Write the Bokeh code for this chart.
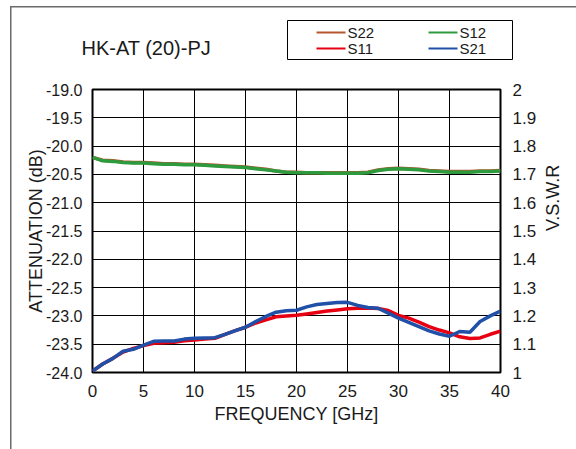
import math
from bokeh.plotting import figure
from bokeh.models import Range1d, LinearAxis, FixedTicker
from bokeh.layouts import column
from bokeh.core.properties import value
from bokeh.embed import file_html
from bokeh.resources import INLINE

# ---------------- data ----------------
freq = [0, 1, 2, 3, 4, 5, 6, 7, 8, 9, 10, 11, 12, 13, 14, 15, 16, 17, 18, 19, 20,
        21, 22, 23, 24, 25, 26, 27, 28, 29, 30, 31, 32, 33, 34, 35, 36, 37, 38, 39, 40]

s12 = [-20.20, -20.26, -20.27, -20.29, -20.30, -20.30, -20.31, -20.32, -20.32, -20.33,
       -20.33, -20.34, -20.35, -20.36, -20.37, -20.38, -20.40, -20.42, -20.44, -20.46,
       -20.47, -20.47, -20.47, -20.48, -20.48, -20.48, -20.48, -20.47, -20.43, -20.41,
       -20.40, -20.41, -20.42, -20.44, -20.45, -20.46, -20.46, -20.46, -20.45, -20.45,
       -20.44]

s22 = [-20.20, -20.25, -20.26, -20.28, -20.29, -20.29, -20.30, -20.31, -20.31, -20.32,
       -20.32, -20.33, -20.34, -20.35, -20.36, -20.37, -20.39, -20.41, -20.44, -20.46,
       -20.46, -20.47, -20.47, -20.47, -20.47, -20.47, -20.47, -20.46, -20.42, -20.40,
       -20.39, -20.40, -20.41, -20.43, -20.44, -20.45, -20.45, -20.45, -20.44, -20.44,
       -20.43]

s11 = [1.005, 1.030, 1.050, 1.072, 1.085, 1.095, 1.103, 1.105, 1.107, 1.112,
       1.115, 1.118, 1.121, 1.135, 1.148, 1.160, 1.175, 1.186, 1.197, 1.200,
       1.202, 1.207, 1.212, 1.217, 1.221, 1.225, 1.227, 1.228, 1.226, 1.219,
       1.202, 1.192, 1.178, 1.162, 1.150, 1.140, 1.126, 1.120, 1.122, 1.135,
       1.146]

s21 = [1.005, 1.030, 1.050, 1.075, 1.082, 1.097, 1.110, 1.111, 1.111, 1.118,
       1.121, 1.122, 1.123, 1.135, 1.148, 1.160, 1.180, 1.198, 1.213, 1.218,
       1.220, 1.232, 1.240, 1.244, 1.247, 1.248, 1.237, 1.230, 1.227, 1.210,
       1.192, 1.177, 1.162, 1.147, 1.136, 1.128, 1.145, 1.142, 1.180, 1.200,
       1.217]

freq_ticks = [0, 5, 10, 15, 20, 25, 30, 35, 40]
att_ticks = [-19.0, -19.5, -20.0, -20.5, -21.0, -21.5, -22.0, -22.5, -23.0, -23.5, -24.0]
att_labels = ["-19.0", "-19.5", "-20.0", "-20.5", "-21.0", "-21.5", "-22.0", "-22.5",
              "-23.0", "-23.5", "-24.0"]
vswr_ticks = [1.0, 1.1, 1.2, 1.3, 1.4, 1.5, 1.6, 1.7, 1.8, 1.9, 2.0]
vswr_labels = ["1", "1.1", "1.2", "1.3", "1.4", "1.5", "1.6", "1.7", "1.8", "1.9", "2"]

series_names = ["S22", "S12", "S11", "S21"]
series_colors = ["#b5562e", "#2e9a3e", "#e60012", "#2150a8"]

title_text = "HK-AT (20)-PJ"
x_title = "FREQUENCY [GHz]"
y_title = "ATTENUATION (dB)"
y2_title = "V.S.W.R"

FONT = "Liberation Sans"
TXT = "#1a1a1a"
HEAD_H = 70

# ---------------- header (title + legend) ----------------
head = figure(width=576, height=HEAD_H, output_backend="svg", toolbar_location=None,
              x_range=Range1d(0, 576), y_range=Range1d(HEAD_H, 0),
              min_border=0, min_border_left=0, min_border_right=0,
              min_border_top=0, min_border_bottom=0)
head.axis.visible = False
head.grid.visible = False
head.outline_line_color = None
head.background_fill_alpha = 0
head.border_fill_alpha = 0
try:
    head.frame_align = False
except Exception:
    pass

head.text(x=[81], y=[47], text=[title_text], text_font=value(FONT),
          text_font_size="20px", text_color=TXT, text_baseline="middle",
          text_align="left")

head.quad(left=[287], right=[512], top=[20], bottom=[59], fill_alpha=0,
          line_color="black", line_width=1)
leg_x0 = [316, 428, 316, 428]
leg_y = [32, 32, 48, 48]
head.segment(x0=leg_x0, y0=leg_y, x1=[x + 29 for x in leg_x0], y1=leg_y,
             line_color=series_colors, line_width=2)
head.text(x=[x + 31 for x in leg_x0], y=leg_y, text=series_names,
          text_font=value(FONT), text_font_size="15px", text_color=TXT,
          text_baseline="middle", text_align="left")

# ---------------- main chart ----------------
p = figure(width=576, height=449 - HEAD_H, output_backend="svg", toolbar_location=None,
           x_range=Range1d(0, 40), y_range=Range1d(-24, -19),
           min_border_left=92, min_border_right=74, min_border_top=89 - HEAD_H,
           min_border_bottom=77)
p.extra_y_ranges = {"vswr": Range1d(1, 2)}
p.background_fill_color = "white"
p.border_fill_alpha = 0
p.outline_line_color = "black"
p.outline_line_width = 2
try:
    p.frame_align = False
except Exception:
    pass


def style_axis(ax, size="16px"):
    ax.major_tick_line_color = None
    ax.minor_tick_line_color = None
    ax.axis_line_color = None
    ax.major_label_text_font = FONT
    ax.major_label_text_font_size = size
    ax.major_label_text_color = TXT
    ax.axis_label_text_font = FONT
    ax.axis_label_text_font_size = "18px"
    ax.axis_label_text_font_style = "normal"
    ax.axis_label_text_color = TXT


xa = p.xaxis[0]
xa.ticker = FixedTicker(ticks=freq_ticks)
xa.axis_label = x_title
style_axis(xa, "17px")
xa.major_label_standoff = 6
xa.axis_label_standoff = 4

ya = p.yaxis[0]
ya.ticker = FixedTicker(ticks=att_ticks)
ya.major_label_overrides = {t: l for t, l in zip(att_ticks, att_labels)}
ya.axis_label = y_title
style_axis(ya)
ya.major_label_standoff = 4
ya.axis_label_standoff = -3

ra = LinearAxis(y_range_name="vswr", ticker=FixedTicker(ticks=vswr_ticks),
                axis_label=y2_title)
ra.major_label_overrides = {t: l for t, l in zip(vswr_ticks, vswr_labels)}
style_axis(ra, "17px")
ra.major_label_standoff = 6
ra.axis_label_standoff = 14
try:
    ra.axis_label_orientation = math.pi / 2
except Exception:
    pass
p.add_layout(ra, "right")

p.xgrid.ticker = FixedTicker(ticks=freq_ticks)
p.ygrid.ticker = FixedTicker(ticks=att_ticks)
for g in (p.xgrid[0], p.ygrid[0]):
    g.grid_line_color = "black"
    g.grid_line_width = 1
    g.grid_line_alpha = 1

p.line(freq, s22, line_color=series_colors[0], line_width=3.5)
p.line(freq, s12, line_color=series_colors[1], line_width=3.5)
p.line(freq, s11, line_color=series_colors[2], line_width=3.5, y_range_name="vswr")
p.line(freq, s21, line_color=series_colors[3], line_width=3.5, y_range_name="vswr")

page = column(head, p, spacing=0)
page.styles = {
    "background-color": "white",
    "background-image": "linear-gradient(#6a6a6a, #6a6a6a), linear-gradient(#6a6a6a, #6a6a6a)",
    "background-size": "1.5px 100%, 100% 1.5px",
    "background-position": "10px 6px, 10px 6px",
    "background-repeat": "no-repeat",
}

open("out.html", "w").write(file_html(page, INLINE))
